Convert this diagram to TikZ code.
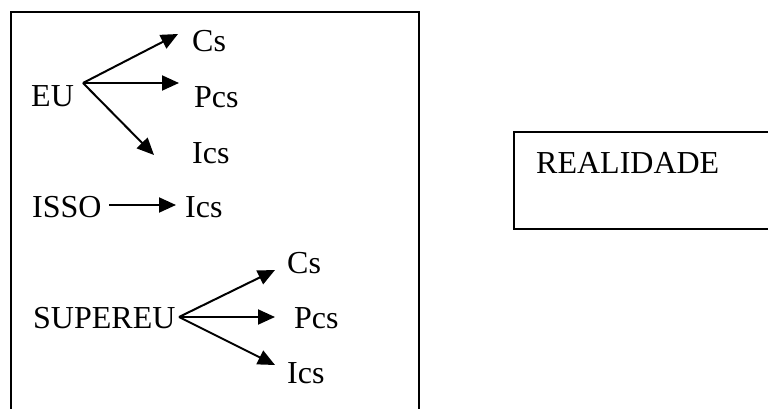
\documentclass[tikz,border=0pt]{standalone}
\usepackage{fontspec}
\setmainfont{Liberation Serif}
\usetikzlibrary{arrows.meta}
\begin{document}
\begin{tikzpicture}[x=1pt,y=-1pt,
  lbl/.style={anchor=base west,inner sep=0pt,font=\fontsize{32}{35}\selectfont},
  arr/.style={line width=2pt,-{Triangle[length=17pt,width=15pt]}},
  frame/.style={line width=2pt}]
\useasboundingbox (0,0) rectangle (768,409);
% outer frames
\draw[frame] (11,430) -- (11,12) -- (419,12) -- (419,430);
\draw[frame] (790,132) -- (514,132) -- (514,229) -- (790,229);
\node[lbl] (real) at (536,173) {REALIDADE};
% EU
\node[lbl] (eu) at (31,107) {EU};
\node[lbl] (cs1) at (192,52) {Cs};
\node[lbl] (pcs1) at (194,108) {Pcs};
\node[lbl] (ics1) at (192,163) {Ics};
\coordinate (euO) at (83,83);
\coordinate (euC) at (178,34);
\coordinate (euP) at (179,83);
\coordinate (euI) at (154,155);
\draw[arr] (euO) -- (euC);
\draw[arr] (euO) -- (euP);
\draw[arr] (euO) -- (euI);
% ISSO
\node[lbl] (isso) at (32,217) {ISSO};
\node[lbl] (ics2) at (185,217) {Ics};
\coordinate (issoO) at (109,205);
\coordinate (issoT) at (176,205);
\draw[arr] (issoO) -- (issoT);
% SUPEREU
\node[lbl] (sup) at (33,328) {SUPEREU};
\node[lbl] (cs3) at (287,273) {Cs};
\node[lbl] (pcs3) at (294,328) {Pcs};
\node[lbl] (ics3) at (287,383) {Ics};
\coordinate (supO) at (179,317);
\coordinate (supC) at (275,270);
\coordinate (supP) at (275,317);
\coordinate (supI) at (275,365);
\draw[arr] (supO) -- (supC);
\draw[arr] (supO) -- (supP);
\draw[arr] (supO) -- (supI);
\end{tikzpicture}
\end{document}
